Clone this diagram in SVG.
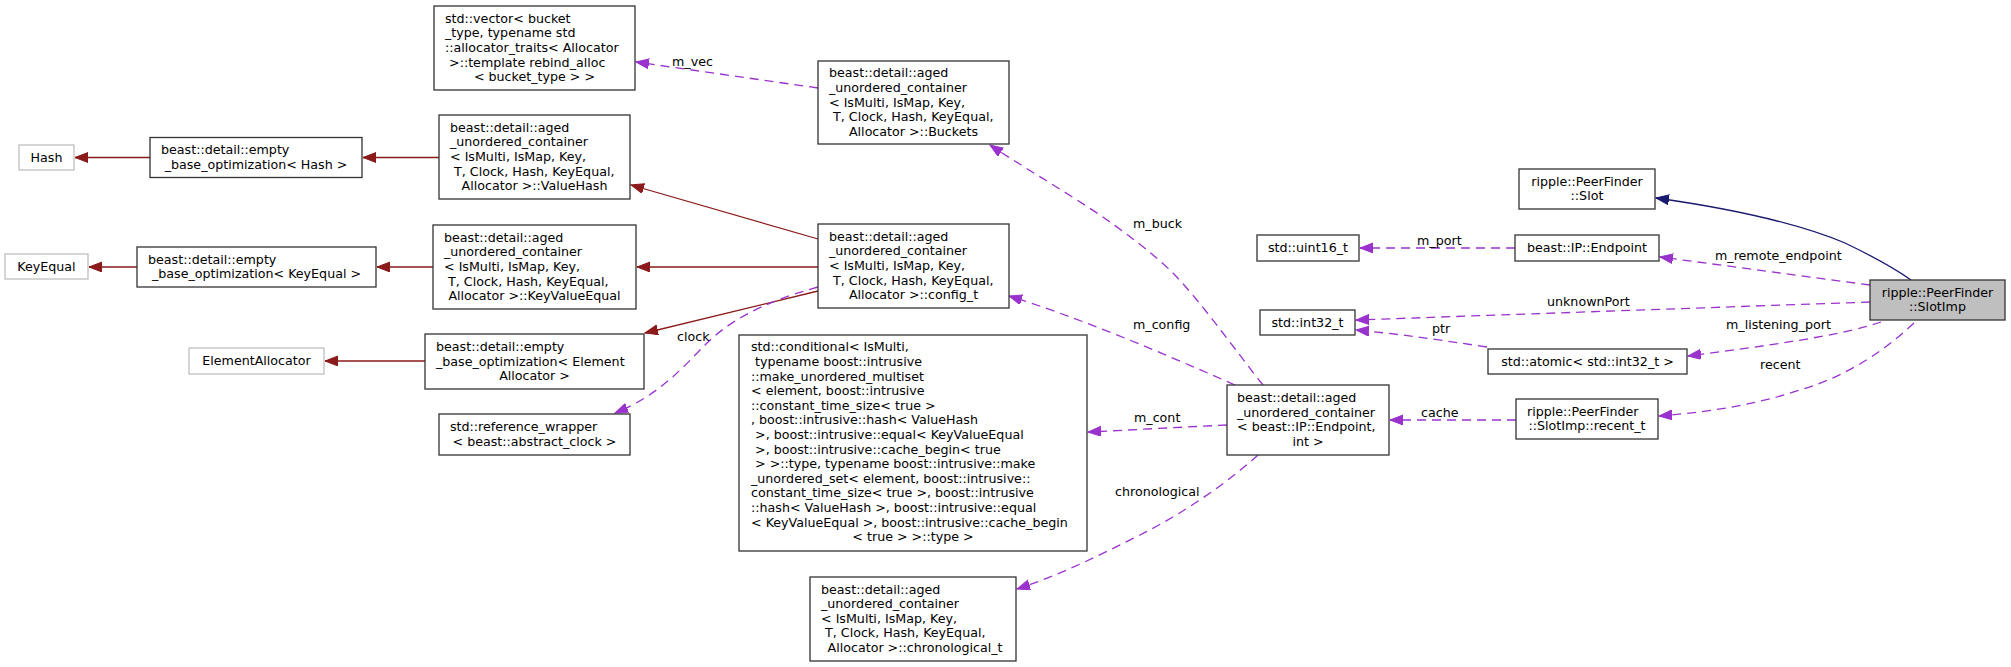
<svg xmlns="http://www.w3.org/2000/svg" width="2011" height="667" viewBox="0 0 2011 667">
<style>
text{font-family:"DejaVu Sans","Liberation Sans",sans-serif;font-size:12.67px;fill:#000}
.c{text-anchor:middle}
.n rect{fill:#fff;stroke:#333;stroke-width:1.3}
.g rect{fill:#fff;stroke:#bfbfbf;stroke-width:1.3}
.root rect{fill:#bfbfbf;stroke:#333;stroke-width:1.3}
.e{fill:none;stroke-width:1.3}
.p{stroke:#9a32cd;stroke-dasharray:9,6}
.r{stroke:#8b1a1a}
.b{stroke:#191970}
</style>
<defs>
<marker id="ap" markerUnits="userSpaceOnUse" markerWidth="14" markerHeight="11" refX="13" refY="5" orient="auto"><path d="M0,0 L13,5 L0,10 z" fill="#9a32cd" stroke="#9a32cd"/></marker>
<marker id="ar" markerUnits="userSpaceOnUse" markerWidth="14" markerHeight="11" refX="13" refY="5" orient="auto"><path d="M0,0 L13,5 L0,10 z" fill="#8b1a1a" stroke="#8b1a1a"/></marker>
<marker id="ab" markerUnits="userSpaceOnUse" markerWidth="14" markerHeight="11" refX="13" refY="5" orient="auto"><path d="M0,0 L13,5 L0,10 z" fill="#191970" stroke="#191970"/></marker>
</defs>
<rect width="2011" height="667" fill="#fff"/>

<g id="connectors">
<path class="e r" d="M150,157.5 L75,157.5" marker-end="url(#ar)"/>
<path class="e r" d="M439,157.5 L363,157.5" marker-end="url(#ar)"/>
<path class="e r" d="M137,267 L89,267" marker-end="url(#ar)"/>
<path class="e r" d="M433,267 L377,267" marker-end="url(#ar)"/>
<path class="e r" d="M425,361 L325,361" marker-end="url(#ar)"/>
<path class="e r" d="M818,239 L631,185" marker-end="url(#ar)"/>
<path class="e r" d="M818,267 L637,267" marker-end="url(#ar)"/>
<path class="e r" d="M818,291 L645,333" marker-end="url(#ar)"/>
<path class="e p" d="M818,287 C760,303 728,322 705,345 C685,365 660,395 615,413" marker-end="url(#ap)"/>
<text x="677" y="340.5">clock</text>
<path class="e p" d="M818,88 L636,62" marker-end="url(#ap)"/>
<text x="672" y="65.5">m_vec</text>
<path class="e p" d="M1263,385 C1235,350 1200,300 1170,270 C1110,215 1050,185 990,145" marker-end="url(#ap)"/>
<text x="1133" y="227.5">m_buck</text>
<path class="e p" d="M1235,385 C1160,352 1080,318 1009,296" marker-end="url(#ap)"/>
<text x="1133" y="328.5">m_config</text>
<path class="e p" d="M1227,425 L1088,432" marker-end="url(#ap)"/>
<text x="1134" y="421.5">m_cont</text>
<path class="e p" d="M1258,455 C1225,485 1180,515 1140,535 C1100,555 1060,575 1017,589" marker-end="url(#ap)"/>
<text x="1115" y="495.5">chronological</text>
<path class="e p" d="M1516,420 L1390,420" marker-end="url(#ap)"/>
<text x="1421" y="416.5">cache</text>
<path class="e p" d="M1515,248 L1360,248" marker-end="url(#ap)"/>
<text x="1417" y="244.5">m_port</text>
<path class="e p" d="M1487,347 C1440,340 1400,334 1356,330" marker-end="url(#ap)"/>
<text x="1432" y="332.5">ptr</text>
<path class="e p" d="M1870,302 L1356,320" marker-end="url(#ap)"/>
<text x="1547" y="305.5">unknownPort</text>
<path class="e p" d="M1870,285 L1660,257" marker-end="url(#ap)"/>
<text x="1715" y="259.5">m_remote_endpoint</text>
<path class="e p" d="M1881,322 C1850,333 1790,343 1688,356" marker-end="url(#ap)"/>
<text x="1726" y="328.5">m_listening_port</text>
<path class="e p" d="M1914,323 C1885,350 1850,375 1800,390 C1760,403 1720,411 1659,416" marker-end="url(#ap)"/>
<text x="1760" y="368.5">recent</text>
<path class="e b" d="M1911,280 C1890,265 1870,255 1845,243 C1790,220 1720,207 1656,198" marker-end="url(#ab)"/>
</g>

<g id="SlotImp" class="root"><rect x="1870" y="280" width="135" height="40"/>
<text class="c" x="1937.5" y="296.7">ripple::PeerFinder</text><text class="c" x="1937.5" y="311.3">::SlotImp</text></g>

<g id="Slot" class="n"><rect x="1519" y="169" width="136" height="40"/>
<text class="c" x="1587" y="185.7">ripple::PeerFinder</text><text class="c" x="1587" y="200.3">::Slot</text></g>

<g id="Endpoint" class="n"><rect x="1515" y="235" width="144" height="26"/>
<text class="c" x="1587" y="252">beast::IP::Endpoint</text></g>

<g id="uint16" class="n"><rect x="1257" y="235" width="102" height="26"/>
<text class="c" x="1308" y="252">std::uint16_t</text></g>

<g id="int32" class="n"><rect x="1260" y="310" width="95" height="25"/>
<text class="c" x="1307.5" y="326.5">std::int32_t</text></g>

<g id="atomic" class="n"><rect x="1488" y="349" width="199" height="25"/>
<text class="c" x="1587.5" y="365.5">std::atomic&lt; std::int32_t &gt;</text></g>

<g id="recent_t" class="n"><rect x="1516" y="399" width="142" height="40"/>
<text x="1527" y="415.7">ripple::PeerFinder</text><text class="c" x="1587" y="430.3">::SlotImp::recent_t</text></g>

<g id="container_endpoint" class="n"><rect x="1227" y="385" width="162" height="70"/>
<text x="1237" y="402.1">beast::detail::aged</text>
<text x="1237" y="416.7">_unordered_container</text>
<text x="1237" y="431.3">&lt; beast::IP::Endpoint,</text>
<text class="c" x="1308" y="445.9">int &gt;</text></g>

<g id="config_t" class="n"><rect x="818" y="224" width="191" height="84"/>
<text x="829" y="240.8">beast::detail::aged</text>
<text x="829" y="255.4">_unordered_container</text>
<text x="829" y="270">&lt; IsMulti, IsMap, Key,</text>
<text x="829" y="284.6" xml:space="preserve"> T, Clock, Hash, KeyEqual,</text>
<text class="c" x="913.5" y="299.2">Allocator &gt;::config_t</text></g>

<g id="Buckets" class="n"><rect x="818" y="61" width="191" height="83"/>
<text x="829" y="77.3">beast::detail::aged</text>
<text x="829" y="91.9">_unordered_container</text>
<text x="829" y="106.5">&lt; IsMulti, IsMap, Key,</text>
<text x="829" y="121.1" xml:space="preserve"> T, Clock, Hash, KeyEqual,</text>
<text class="c" x="913.5" y="135.7">Allocator &gt;::Buckets</text></g>

<g id="vector" class="n"><rect x="434" y="6" width="201" height="84"/>
<text x="445" y="22.8">std::vector&lt; bucket</text>
<text x="445" y="37.4">_type, typename std</text>
<text x="445" y="52">::allocator_traits&lt; Allocator</text>
<text x="445" y="66.6" xml:space="preserve"> &gt;::template rebind_alloc</text>
<text class="c" x="534.5" y="81.2">&lt; bucket_type &gt; &gt;</text></g>

<g id="ValueHash" class="n"><rect x="439" y="115" width="191" height="84"/>
<text x="450" y="131.8">beast::detail::aged</text>
<text x="450" y="146.4">_unordered_container</text>
<text x="450" y="161">&lt; IsMulti, IsMap, Key,</text>
<text x="450" y="175.6" xml:space="preserve"> T, Clock, Hash, KeyEqual,</text>
<text class="c" x="534.5" y="190.2">Allocator &gt;::ValueHash</text></g>

<g id="KeyValueEqual" class="n"><rect x="433" y="225" width="203" height="84"/>
<text x="444" y="241.8">beast::detail::aged</text>
<text x="444" y="256.4">_unordered_container</text>
<text x="444" y="271">&lt; IsMulti, IsMap, Key,</text>
<text x="444" y="285.6" xml:space="preserve"> T, Clock, Hash, KeyEqual,</text>
<text class="c" x="534.5" y="300.2">Allocator &gt;::KeyValueEqual</text></g>

<g id="ebo_Hash" class="n"><rect x="150" y="137.5" width="212" height="40"/>
<text x="161" y="154">beast::detail::empty</text>
<text class="c" x="256" y="168.6">_base_optimization&lt; Hash &gt;</text></g>

<g id="Hash" class="g"><rect x="19" y="145" width="55" height="25"/>
<text class="c" x="46.5" y="161.5">Hash</text></g>

<g id="ebo_KeyEqual" class="n"><rect x="137" y="247" width="239" height="40"/>
<text x="148" y="263.5">beast::detail::empty</text>
<text class="c" x="256.5" y="278.1">_base_optimization&lt; KeyEqual &gt;</text></g>

<g id="KeyEqual" class="g"><rect x="5" y="254" width="83" height="25"/>
<text class="c" x="46.5" y="270.5">KeyEqual</text></g>

<g id="ebo_ElementAllocator" class="n"><rect x="425" y="334" width="219" height="55"/>
<text x="436" y="350.9">beast::detail::empty</text>
<text x="436" y="365.5">_base_optimization&lt; Element</text>
<text class="c" x="534.5" y="380.1">Allocator &gt;</text></g>

<g id="ElementAllocator" class="g"><rect x="189" y="348" width="135" height="26"/>
<text class="c" x="256.5" y="365">ElementAllocator</text></g>

<g id="reference_wrapper" class="n"><rect x="439" y="414" width="191" height="41"/>
<text x="450" y="431.2">std::reference_wrapper</text>
<text class="c" x="534.5" y="445.8">&lt; beast::abstract_clock &gt;</text></g>

<g id="conditional" class="n"><rect x="739" y="335" width="348" height="216"/>
<text x="751" y="351.3">std::conditional&lt; IsMulti,</text>
<text x="751" y="365.9" xml:space="preserve"> typename boost::intrusive</text>
<text x="751" y="380.5">::make_unordered_multiset</text>
<text x="751" y="395.1">&lt; element, boost::intrusive</text>
<text x="751" y="409.7">::constant_time_size&lt; true &gt;</text>
<text x="751" y="424.3">, boost::intrusive::hash&lt; ValueHash</text>
<text x="751" y="438.9" xml:space="preserve"> &gt;, boost::intrusive::equal&lt; KeyValueEqual</text>
<text x="751" y="453.5" xml:space="preserve"> &gt;, boost::intrusive::cache_begin&lt; true</text>
<text x="751" y="468.1" xml:space="preserve"> &gt; &gt;::type, typename boost::intrusive::make</text>
<text x="751" y="482.7">_unordered_set&lt; element, boost::intrusive::</text>
<text x="751" y="497.3">constant_time_size&lt; true &gt;, boost::intrusive</text>
<text x="751" y="511.9">::hash&lt; ValueHash &gt;, boost::intrusive::equal</text>
<text x="751" y="526.5">&lt; KeyValueEqual &gt;, boost::intrusive::cache_begin</text>
<text class="c" x="913" y="541.1">&lt; true &gt; &gt;::type &gt;</text></g>

<g id="chronological_t" class="n"><rect x="810" y="577" width="206" height="84"/>
<text x="821" y="593.5">beast::detail::aged</text>
<text x="821" y="608.1">_unordered_container</text>
<text x="821" y="622.7">&lt; IsMulti, IsMap, Key,</text>
<text x="821" y="637.3" xml:space="preserve"> T, Clock, Hash, KeyEqual,</text>
<text class="c" x="913" y="651.9" xml:space="preserve"> Allocator &gt;::chronological_t</text></g>
</svg>
